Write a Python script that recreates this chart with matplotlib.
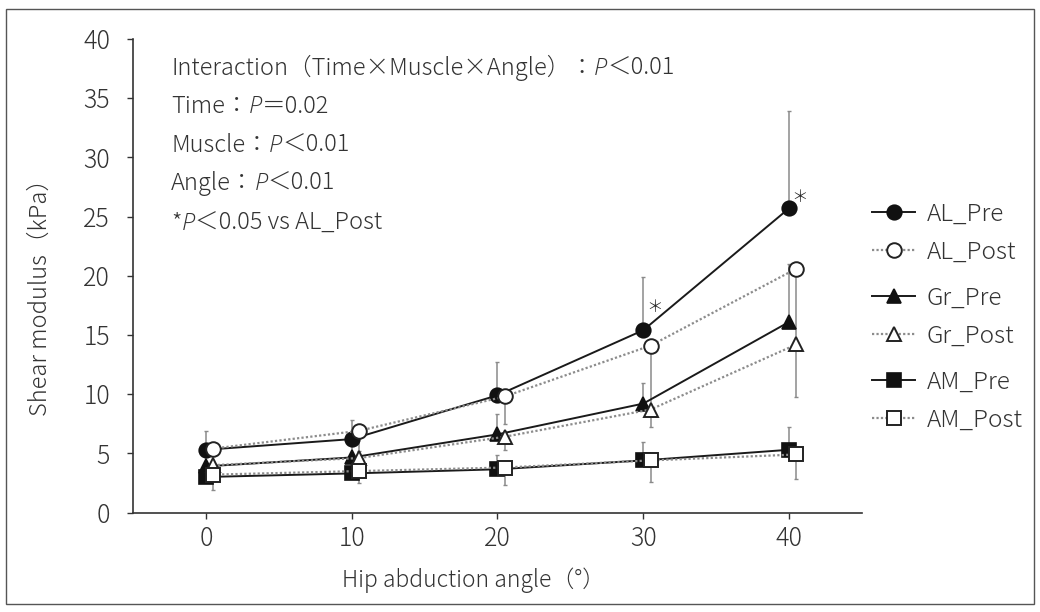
import matplotlib
matplotlib.use('Agg')
import matplotlib.pyplot as plt
from matplotlib.offsetbox import TextArea, HPacker, AnnotationBbox
from matplotlib.patches import Rectangle

plt.rcParams['font.family'] = ['Noto Sans CJK JP', 'DejaVu Sans']
plt.rcParams['font.weight'] = 'light'

# ---------------- data ----------------
angles = [0, 10, 20, 30, 40]
post_offset = 0.5

al_pre = [5.3, 6.2, 9.9, 15.4, 25.7]
al_pre_sd = [1.6, 1.6, 2.8, 4.5, 8.2]
al_post = [5.4, 6.9, 9.8, 14.1, 20.6]
al_post_sd = [1.3, 1.7, 2.3, 5.3, 6.3]

gr_pre = [3.9, 4.65, 6.6, 9.2, 16.1]
gr_pre_sd = [1.0, 1.25, 1.75, 1.7, 4.9]
gr_post = [4.0, 4.6, 6.4, 8.7, 14.2]
gr_post_sd = [0.8, 0.8, 1.1, 1.5, 4.45]

am_pre = [3.0, 3.3, 3.65, 4.4, 5.3]
am_pre_sd = [0.7, 0.8, 1.2, 1.55, 1.9]
am_post = [3.2, 3.5, 3.8, 4.4, 4.9]
am_post_sd = [1.3, 1.0, 1.5, 1.8, 2.1]

sig_angles = [30, 40]  # * P<0.05 AL_Pre vs AL_Post
sig_dy = [1.9, 0.9]

stats_lines = [
    ("Interaction（Time×Muscle×Angle）：", "P", "＜0.01"),
    ("Time：", "P", "＝0.02"),
    ("Muscle：", "P", "＜0.01"),
    ("Angle：", "P", "＜0.01"),
    ("*", "P", "＜0.05 vs AL_Post"),
]

# ---------------- figure ----------------
W, H = 1040, 612
fig = plt.figure(figsize=(W / 100, H / 100), dpi=100)
ax_l, ax_r, ax_b, ax_t = 133, 862, 512.5, 39
ax = fig.add_axes([ax_l / W, 1 - ax_b / H, (ax_r - ax_l) / W, (ax_b - ax_t) / H])

txt_col = '#333333'
pre_col = '#1a1a1a'
post_col = '#8c8c8c'
err_col = '#8a8a8a'

post_x = [a + post_offset for a in angles]

series = [
    ("AL_Pre", angles, al_pre, al_pre_sd, 'o', True),
    ("AL_Post", post_x, al_post, al_post_sd, 'o', False),
    ("Gr_Pre", angles, gr_pre, gr_pre_sd, '^', True),
    ("Gr_Post", post_x, gr_post, gr_post_sd, '^', False),
    ("AM_Pre", angles, am_pre, am_pre_sd, 's', True),
    ("AM_Post", post_x, am_post, am_post_sd, 's', False),
]

msize = {'o': 10.5, '^': 10.5, 's': 9.5}
handles = []
for name, xs, ys, sd, mk, is_pre in series:
    zeros = [0] * len(sd)
    yerr = [zeros, sd] if is_pre else [sd, zeros]
    ax.errorbar(xs, ys, yerr=yerr, fmt='none', ecolor=err_col, elinewidth=1.1,
                capsize=1.6, capthick=1.0, zorder=1)
for name, xs, ys, sd, mk, is_pre in series:
    if is_pre:
        h, = ax.plot(xs, ys, color=pre_col, lw=1.4, ls='-', marker=mk,
                     ms=msize[mk], mfc='#111111', mec='#111111', mew=1.2,
                     zorder=3, label=name)
    else:
        h, = ax.plot(xs, ys, color=post_col, lw=1.6, ls=(0, (1, 1)), marker=mk,
                     ms=msize[mk], mfc='white', mec='#222222', mew=1.4,
                     zorder=4, label=name)
    handles.append(h)

for a, dy in zip(sig_angles, sig_dy):
    i = angles.index(a)
    ax.text(a + 0.75, al_pre[i] + dy, '＊', fontsize=12, color='#222222',
            ha='center', va='center')

ax.set_xlim(-5, 45)
ax.set_ylim(0, 40)
ax.set_xticks(range(0, 41, 10))
ax.set_yticks(range(0, 41, 5))
for s in ['top', 'right']:
    ax.spines[s].set_visible(False)
for s in ['left', 'bottom']:
    ax.spines[s].set_color('#333333')
    ax.spines[s].set_linewidth(1.2)
ax.tick_params(axis='both', direction='out', length=4, width=1.0, colors='#333333',
               labelsize=18, labelcolor=txt_col)
ax.tick_params(axis='y', pad=12.5)
ax.tick_params(axis='x', pad=5)

fig.text(40 / W, 1 - 291 / H, "Shear modulus（kPa）", rotation=90, fontsize=17,
         color=txt_col, ha='center', va='center')
fig.text(474 / W, 1 - 580 / H, "Hip abduction angle（°）", fontsize=16.5,
         color=txt_col, ha='center', va='center')

# statistics text block
line_y = [68, 106, 145, 183, 223]
for (pre_t, it, post_t), yy in zip(stats_lines, line_y):
    tp = dict(fontsize=17, color=txt_col, family=['Noto Sans CJK JP', 'DejaVu Sans'],
              weight='light')
    ip = dict(fontsize=17, color=txt_col, family=['Open Sans', 'Liberation Sans'],
              style='italic', weight=300)
    box = HPacker(children=[TextArea(pre_t, textprops=tp), TextArea(it, textprops=ip),
                            TextArea(post_t, textprops=tp)],
                  align='baseline', pad=0, sep=0)
    ab = AnnotationBbox(box, (171 / W, 1 - yy / H), xycoords='figure fraction',
                        box_alignment=(0, 0.5), frameon=False, pad=0)
    fig.add_artist(ab)

# legends (grouped in pairs)
centers = [233, 317, 401]
for k, cy in enumerate(centers):
    fig.legend(handles=handles[2 * k:2 * k + 2], loc='center left',
               bbox_to_anchor=(872 / W, 1 - cy / H), frameon=False,
               fontsize=17.5, handlelength=1.77, handletextpad=0.49,
               labelspacing=0.52, borderpad=0, borderaxespad=0,
               labelcolor=txt_col)

# outer border
fig.add_artist(Rectangle((6 / W, 1 - 604 / H), (1034 - 6) / W, (604 - 9) / H,
                         transform=fig.transFigure, fill=False,
                         edgecolor='#555555', lw=1.0))

fig.savefig('out.png', dpi=100)
